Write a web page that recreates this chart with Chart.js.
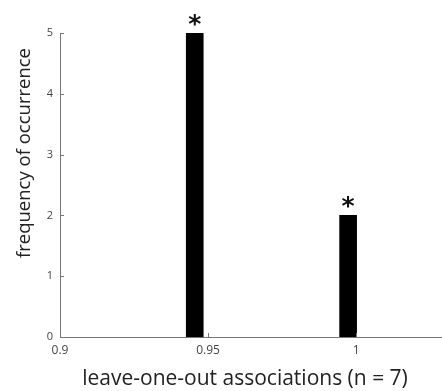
<!DOCTYPE html>
<html>
<head>
<meta charset="utf-8">
<script src="https://cdn.jsdelivr.net/npm/chart.js@4/dist/chart.umd.min.js"></script>
<style>
    html, body { margin: 0; padding: 0; background: #fff; }
    #wrap { width: 442px; height: 391px; position: relative; }
</style>
</head>
<body>
<div id="wrap"><canvas id="chartHist"></canvas></div>
<script>
// histogram bins (centre of each bar) and counts
const binCenters = [0.9455, 0.9973];
const counts = [5, 2];
const significant = [true, true];

// axis ticks
const xTickValues = [0.9, 0.95, 1];
const xTickLabels = ['0.9', '0.95', '1'];
const yTickValues = [0, 1, 2, 3, 4, 5];

const xTitle = 'leave-one-out associations (n = 7)';
const yTitle = 'frequency of occurrence';

const textFont = "'Open Sans', 'DejaVu Sans', sans-serif";

// asterisk above each significant bar
const starPlugin = {
    id: 'stars',
    afterDatasetsDraw(chart) {
        const ctx = chart.ctx;
        const meta = chart.getDatasetMeta(0);
        ctx.save();
        ctx.fillStyle = '#111';
        ctx.font = "bold 25px 'DejaVu Sans', sans-serif";
        ctx.textAlign = 'center';
        ctx.textBaseline = 'alphabetic';
        meta.data.forEach((bar, i) => {
            if (significant[i]) ctx.fillText('*', bar.x, bar.y - 1);
        });
        ctx.restore();
    }
};

// small inward tick marks (matlab style) + axis titles
const axisDecor = {
    id: 'axisDecor',
    afterDraw(chart) {
        const ctx = chart.ctx;
        const { x, y } = chart.scales;
        ctx.save();
        ctx.strokeStyle = '#777';
        ctx.lineWidth = 1;
        ctx.beginPath();
        yTickValues.forEach(v => {
            const py = Math.round(y.getPixelForValue(v)) + 0.5;
            ctx.moveTo(x.left, py);
            ctx.lineTo(x.left + 4, py);
        });
        xTickValues.forEach(v => {
            const px = Math.round(x.getPixelForValue(v)) + 0.5;
            ctx.moveTo(px, y.bottom);
            ctx.lineTo(px, y.bottom - 4);
        });
        ctx.stroke();

        ctx.fillStyle = '#222';
        ctx.textAlign = 'center';
        ctx.font = `21px ${textFont}`;
        ctx.textBaseline = 'alphabetic';
        ctx.fillText(xTitle, 245, 385);

        ctx.translate(25, 153);
        ctx.rotate(-Math.PI / 2);
        ctx.font = `18.5px ${textFont}`;
        ctx.textBaseline = 'middle';
        ctx.fillText(yTitle, 0, 0);
        ctx.restore();
    }
};

const ctx = document.getElementById('chartHist').getContext('2d');
new Chart(ctx, {
    type: 'bar',
    data: {
        datasets: [{
            data: binCenters.map((c, i) => ({ x: c, y: counts[i] })),
            backgroundColor: '#000',
            borderWidth: 0,
            barThickness: 17
        }]
    },
    options: {
        responsive: true,
        maintainAspectRatio: false,
        animation: false,
        layout: { padding: { top: 33, right: 0, left: 0, bottom: 0 } },
        plugins: {
            legend: { display: false },
            tooltip: { enabled: false }
        },
        scales: {
            x: {
                type: 'linear',
                min: 0.9,
                max: 1.029,
                offset: false,
                grid: { display: false, drawTicks: false },
                border: { display: true, color: '#777', width: 1 },
                afterBuildTicks: (scale) => {
                    scale.ticks = xTickValues.map(v => ({ value: v }));
                },
                afterFit: (scale) => { scale.height = 54; },
                ticks: {
                    padding: 6,
                    color: '#444',
                    font: { family: textFont, size: 12 },
                    maxRotation: 0,
                    callback: (value) => {
                        const i = xTickValues.indexOf(value);
                        return i >= 0 ? xTickLabels[i] : '';
                    }
                }
            },
            y: {
                min: 0,
                max: 5,
                grid: { display: false, drawTicks: false },
                border: { display: true, color: '#777', width: 1 },
                afterFit: (scale) => { scale.width = 60; },
                ticks: {
                    stepSize: 1,
                    padding: 7,
                    color: '#444',
                    font: { family: textFont, size: 11 }
                }
            }
        }
    },
    plugins: [starPlugin, axisDecor]
});
</script>
</body>
</html>
